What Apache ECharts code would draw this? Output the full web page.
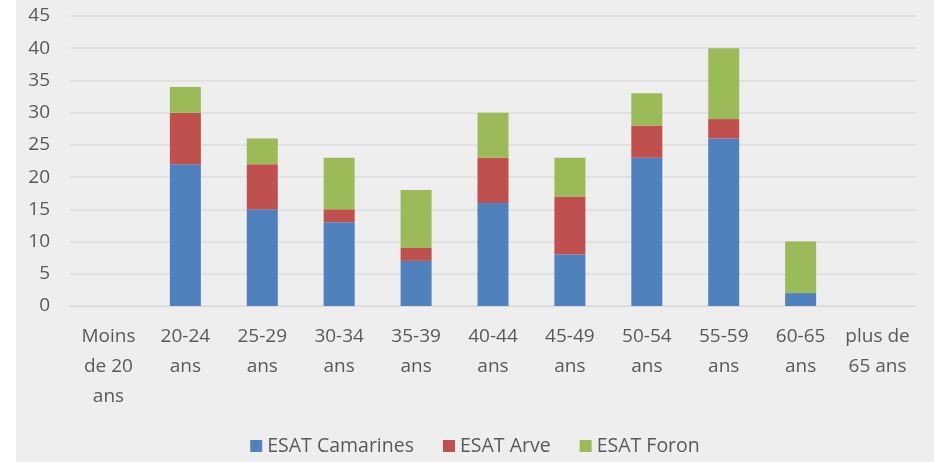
<!DOCTYPE html>
<html>
<head>
<meta charset="utf-8">
<script src="https://cdn.jsdelivr.net/npm/echarts@6/dist/echarts.min.js"></script>
<style>
  html, body { margin: 0; height: 100%; background: #ffffff; }
  #chart { position: absolute; left: 16px; top: 0; width: 918px; height: 462px; }
</style>
</head>
<body>
<div id="chart"></div>
<script>
  // tranches d'age
  const categories = ['Moins\nde 20\nans', '20-24\nans', '25-29\nans', '30-34\nans', '35-39\nans',
    '40-44\nans', '45-49\nans', '50-54\nans', '55-59\nans', '60-65\nans', 'plus de\n65 ans'];
  const camarines = [0, 22, 15, 13, 7, 16, 8, 23, 26, 2, 0];
  const arve      = [0, 8, 7, 2, 2, 7, 9, 5, 3, 0, 0];
  const foron     = [0, 4, 4, 8, 9, 7, 6, 5, 11, 8, 0];

  const mChart = echarts.init(document.getElementById('chart'), null, { renderer: 'canvas' });
  const txt = '#595959';
  const fontFamily = '"Open Sans", "Noto Sans", sans-serif';

  const mkSeries = (name, data, color) => ({
    name: name,
    type: 'bar',
    stack: 'total',
    barWidth: 31,
    data: data,
    itemStyle: { color: color }
  });

  const option = {
    backgroundColor: '#eeeeee',
    textStyle: { fontFamily: fontFamily },
    animation: false,
    grid: { left: 54, right: 18, top: 16, bottom: 156 },
    legend: {
      bottom: 1,
      left: 'center',
      itemWidth: 12,
      itemHeight: 12,
      itemGap: 29,
      icon: 'rect',
      textStyle: { color: txt, fontSize: 19.5, fontFamily: fontFamily },
      data: ['ESAT Camarines', 'ESAT Arve', 'ESAT Foron']
    },
    xAxis: {
      type: 'category',
      data: categories,
      axisLine: { lineStyle: { color: '#d9d9d9' } },
      axisTick: { show: false },
      axisLabel: {
        color: txt, fontSize: 19, lineHeight: 30, margin: 16, interval: 0,
        fontFamily: fontFamily
      }
    },
    yAxis: {
      type: 'value',
      min: 0,
      max: 45,
      interval: 5,
      axisLine: { show: false },
      axisTick: { show: false },
      axisLabel: { color: txt, fontSize: 19, margin: 20, fontFamily: fontFamily },
      splitLine: { lineStyle: { color: '#dcdcdc', width: 1.5 } }
    },
    series: [
      mkSeries('ESAT Camarines', camarines, '#4f81bd'),
      mkSeries('ESAT Arve', arve, '#c0504d'),
      mkSeries('ESAT Foron', foron, '#9bbb59')
    ]
  };

  mChart.setOption(option);
  window.addEventListener('resize', mChart.resize);
</script>
</body>
</html>
